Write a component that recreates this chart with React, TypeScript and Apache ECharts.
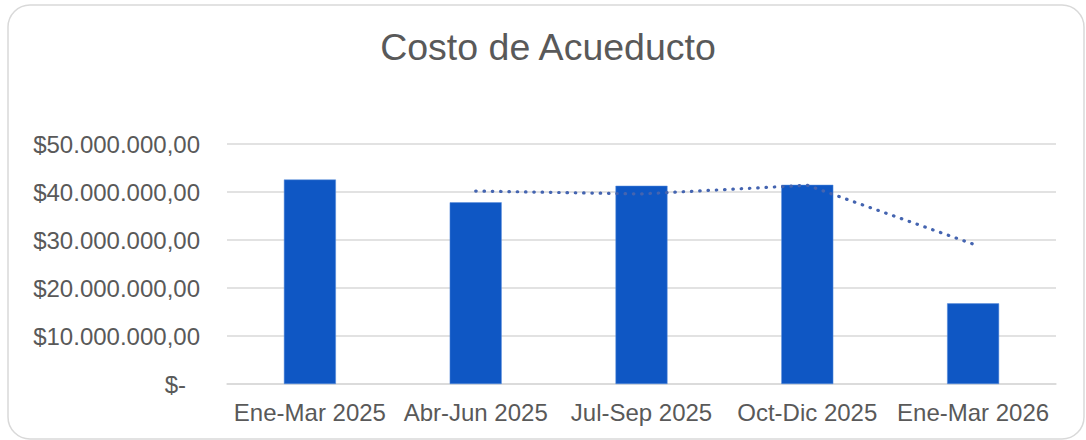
import React, { useEffect, useRef } from "react";
import * as echarts from "echarts";

const categories = ["Ene-Mar 2025", "Abr-Jun 2025", "Jul-Sep 2025", "Oct-Dic 2025", "Ene-Mar 2026"];
const costs = [42600000, 37850000, 41300000, 41500000, 16800000];
const trend = [null, 40200000, 39600000, 41400000, 29150000];
const yTicks = { min: 0, max: 50000000, interval: 10000000 };
const titleText = "Costo de Acueducto";

const FONT = "'Liberation Sans', Arial, sans-serif";

function fmtMoney(v: number): string {
  if (v === 0) return "{z|$-}";
  const parts = Math.round(v).toString().replace(/\B(?=(\d{3})+(?!\d))/g, ".");
  return "$" + parts + ",00";
}

export default function App() {
  const ref = useRef<HTMLDivElement>(null);
  useEffect(() => {
    if (!ref.current) return;
    const chart = echarts.init(ref.current, undefined, { renderer: "svg" });
    chart.setOption({
      animation: false,
      backgroundColor: "#ffffff",
      textStyle: { fontFamily: FONT },
      title: {
        text: titleText,
        left: 543,
        textAlign: "center",
        top: 23,
        textStyle: { fontFamily: FONT, fontSize: 37.5, fontWeight: "normal", color: "#595959" },
      },
      graphic: [
        {
          type: "rect",
          shape: { x: 8, y: 5, width: 1076, height: 434, r: 22 },
          style: { fill: "none", stroke: "#d9d9d9", lineWidth: 1.5 },
          silent: true,
          z: -1,
        },
      ],
      grid: { left: 227, right: 30, top: 144, bottom: 56, containLabel: false },
      xAxis: {
        type: "category",
        data: categories,
        axisLine: { show: true, lineStyle: { color: "#d9d9d9", width: 1.5 } },
        axisTick: { show: false },
        axisLabel: { color: "#595959", fontSize: 24, fontFamily: FONT, margin: 16, interval: 0 },
      },
      yAxis: {
        type: "value",
        min: yTicks.min,
        max: yTicks.max,
        interval: yTicks.interval,
        axisLine: { show: false },
        axisTick: { show: false },
        splitLine: { lineStyle: { color: "#d9d9d9", width: 1.5 } },
        axisLabel: {
          color: "#595959",
          fontSize: 24,
          fontFamily: FONT,
          margin: 27,
          formatter: fmtMoney,
          rich: { z: { color: "#595959", fontSize: 24, fontFamily: FONT, padding: [0, 14, 0, 0] } },
        },
      },
      series: [
        {
          type: "bar",
          data: costs,
          barWidth: 52,
          itemStyle: { color: "#0f57c4", borderColor: "#5b8fdc", borderWidth: 0.5 },
          z: 2,
        },
        {
          type: "line",
          data: trend,
          symbol: "none",
          connectNulls: false,
          lineStyle: { color: "#4464b0", width: 3.2, type: [0.5, 7.8], cap: "round" },
          z: 3,
        },
      ],
    });
    return () => chart.dispose();
  }, []);
  return (
    <div
      ref={ref}
      style={{ position: "fixed", left: 0, top: 0, width: 1086, height: 440 }}
    />
  );
}
